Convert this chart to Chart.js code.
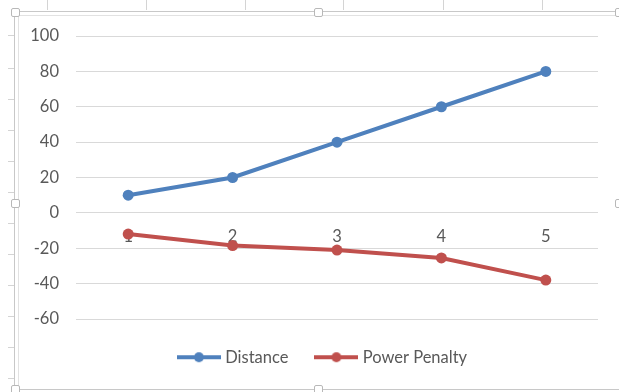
<!DOCTYPE html>
<html>
<head>
<meta charset="utf-8">
<title>Distance / Power Penalty</title>
<script src="https://cdn.jsdelivr.net/npm/chart.js@4.4.1/dist/chart.umd.min.js"></script>
<style>
  body { margin: 0; background: #fff; }
  #wrap { position: relative; width: 619px; height: 392px; overflow: hidden; }
  #chart { position: absolute; left: 0; top: 0; }
  .edge { position: absolute; pointer-events: none; }
  .outer { left: 14px; top: 11px; width: 620px; height: 377px; border: 1px solid #c8c8c8; }
  .inner { left: 18px; top: 15px; width: 620px; height: 372px; border-left: 1px solid #e2e2e2; border-top: 1px solid #e2e2e2; }
  .handle { width: 7px; height: 7px; background: #fff; border: 1px solid #b8b8b8; border-radius: 2px; }
  .vtick { width: 1px; height: 10px; top: 0; background: #d4d4d4; }
  .htick { height: 1px; width: 6px; left: 8px; background: #d4d4d4; }
</style>
</head>
<body>
<div id="wrap">
  <canvas id="chart" width="619" height="392"></canvas>
</div>
<script>
const categories = ['1', '2', '3', '4', '5'];
const distance = [10, 20, 40, 60, 80];
const powerPenalty = [-12, -18.5, -21, -25.5, -38];
const yTicks = [100, 80, 60, 40, 20, 0, -20, -40, -60];

const BLUE = '#4f81bd';
const RED = '#c0504d';
const TEXT = '#595959';
const FONT = 'Lato, "Noto Sans", sans-serif';

// sheet chrome around the chart object
const wrap = document.getElementById('wrap');
function addEdge(cls, x, y) {
  const d = document.createElement('div');
  d.className = 'edge ' + cls;
  if (x !== null) d.style.left = x + 'px';
  if (y !== null) d.style.top = y + 'px';
  wrap.appendChild(d);
}
[47, 146, 245, 343, 443, 542].forEach(x => addEdge('vtick', x, null));
[35, 68, 99, 130, 161, 192, 223, 254, 285, 316, 347, 378].forEach(y => addEdge('htick', null, y));
addEdge('outer', null, null);
addEdge('inner', null, null);
[[11, 8], [314, 8], [615, 8], [11, 199], [615, 199], [11, 385], [314, 385]]
  .forEach(p => addEdge('handle', p[0], p[1]));

// legend swatch: short line with a marker in the middle
function legendIcon(color) {
  const c = document.createElement('canvas');
  c.width = 44; c.height = 12;
  const g = c.getContext('2d');
  g.strokeStyle = color;
  g.lineWidth = 4;
  g.beginPath(); g.moveTo(0, 6); g.lineTo(44, 6); g.stroke();
  g.fillStyle = color;
  g.beginPath(); g.arc(22, 6, 5, 0, Math.PI * 2); g.fill();
  return c;
}

// the legend row sits a little right of the full-width centre
const shiftLegend = {
  id: 'shiftLegend',
  afterLayout(chart) {
    chart.legend.left += 25;
    chart.legend.right += 25;
  }
};

const ctx = document.getElementById('chart');
new Chart(ctx, {
  type: 'line',
  data: {
    labels: categories,
    datasets: [{
      label: 'Distance',
      data: distance,
      borderColor: BLUE,
      backgroundColor: BLUE,
      borderWidth: 4,
      pointRadius: 5.5,
      pointBorderWidth: 0,
      tension: 0
    }, {
      label: 'Power Penalty',
      data: powerPenalty,
      borderColor: RED,
      backgroundColor: RED,
      borderWidth: 4,
      pointRadius: 5.5,
      pointBorderWidth: 0,
      tension: 0
    }]
  },
  plugins: [shiftLegend],
  options: {
    responsive: false,
    animation: false,
    layout: { padding: { left: 0, right: 21, top: 36, bottom: 16.5 } },
    plugins: {
      tooltip: { enabled: false },
      legend: {
        position: 'bottom',
        labels: {
          usePointStyle: true,
          pointStyleWidth: 36,
          padding: 30,
          color: TEXT,
          font: { family: FONT, size: 16.5 },
          generateLabels(chart) {
            return chart.data.datasets.map((ds, i) => ({
              text: ds.label,
              pointStyle: legendIcon(ds.borderColor),
              fontColor: TEXT,
              hidden: false,
              datasetIndex: i,
              lineWidth: 0
            }));
          }
        }
      }
    },
    scales: {
      x: {
        position: { y: 0 },
        offset: true,
        grid: { display: false, drawTicks: false },
        border: { display: false },
        ticks: { color: TEXT, padding: 14, font: { family: FONT, size: 16.5 } }
      },
      y: {
        min: -60,
        max: 100,
        afterFit(scale) { scale.width = 76; },
        afterBuildTicks(scale) { scale.ticks = yTicks.map(v => ({ value: v })); },
        grid: { color: '#d9d9d9', lineWidth: 1, drawTicks: false },
        border: { display: false },
        ticks: { color: TEXT, padding: 17, font: { family: FONT, size: 16.5 } }
      }
    }
  }
});
</script>
</body>
</html>
